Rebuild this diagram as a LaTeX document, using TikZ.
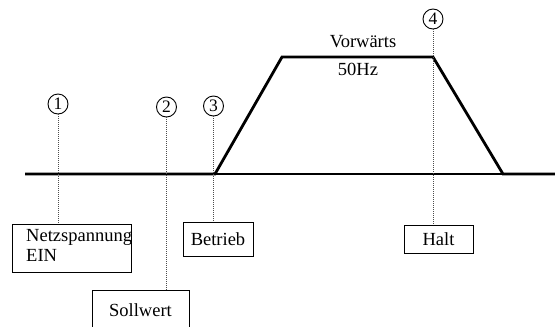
\documentclass[tikz,border=0pt]{standalone}
\usepackage{fontspec}
\setmainfont{Liberation Serif}
\begin{document}
\begin{tikzpicture}[x=1pt,y=-1pt,
  lbl/.style={font=\fontsize{18.5}{20}\selectfont, inner sep=0pt},
  box/.style={draw, line width=0.9pt, inner sep=0pt, font=\fontsize{18.5}{20}\selectfont},
  num/.style={draw, circle, line width=0.9pt, minimum size=20pt, inner sep=0pt, font=\fontsize{17.5}{17.5}\selectfont},
  guide/.style={line width=0.5pt, black!70, dash pattern=on 1pt off 1pt},
  signal/.style={line width=2.8pt, line join=miter},
  axis/.style={line width=1.8pt}]
\useasboundingbox (0,0) rectangle (555,327);

% time axis and speed profile
\coordinate (a0) at (25,174);
\coordinate (a1) at (555,174);
\coordinate (r0) at (215,174);
\coordinate (t0) at (282,57);
\coordinate (t1) at (433,57);
\coordinate (r1) at (503,174);
\draw[axis] (a0) -- (a1);
\draw[signal] (a0) -- (r0) -- (t0) -- (t1) -- (r1) -- (a1);

\node[lbl] (vor) at (363,42) {Vorwärts};
\node[lbl] (hz) at (358,69) {50Hz};

% event markers
\node[num] (c1) at (58,104) {1};
\node[num] (c2) at (166.5,107) {2};
\node[num] (c3) at (213.5,106) {3};
\node[num] (c4) at (433,19) {4};

% event boxes
\node[box, minimum width=119pt, minimum height=48pt, anchor=north west] (b1) at (12,224) {};
\node[lbl, anchor=north west, align=left] (b1t) at (26,229) {Netzspannung\\EIN};
\node[box, minimum width=97pt, minimum height=40pt, anchor=north] (b2) at (140.5,290) {Sollwert};
\node[box, minimum width=70pt, minimum height=34pt, anchor=north] (b3) at (218,222) {Betrieb};
\node[box, minimum width=69pt, minimum height=28pt, anchor=north] (b4) at (438.5,225) {Halt};

% guide lines from markers to boxes
\draw[guide] (c1.south) -- (c1.south |- b1.north);
\draw[guide] (c2.south) -- (c2.south |- b2.north);
\draw[guide] (c3.south) -- (c3.south |- b3.north);
\draw[guide] (c4.south) -- (c4.south |- b4.north);
\end{tikzpicture}
\end{document}
